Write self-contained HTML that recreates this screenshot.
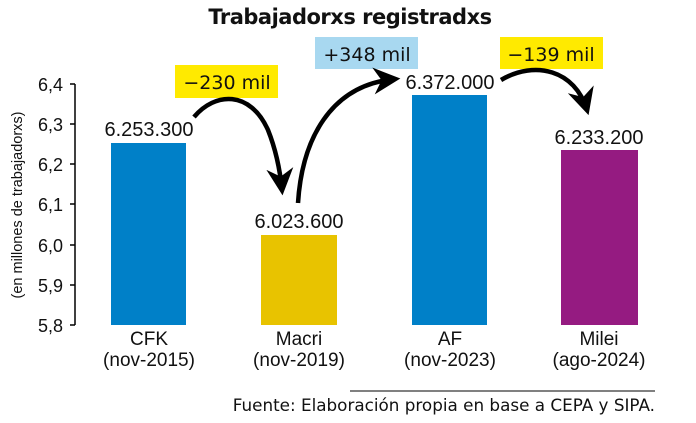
<!DOCTYPE html><html><head><style>body{margin:0;background:#fff;width:696px;height:418px;overflow:hidden}</style></head><body>
<svg width="696" height="418" xmlns="http://www.w3.org/2000/svg" font-family="Liberation Sans, sans-serif">
<defs><marker id="ah" viewBox="0 0 10 10" refX="8" refY="5" markerWidth="6" markerHeight="6" orient="auto"><path d="M0,0 L10,5 L0,10 L3,5z" fill="#000"/></marker></defs>
<text x="350" y="24" text-anchor="middle" font-size="21" font-weight="bold" fill="#111" font-family="DejaVu Sans, sans-serif" letter-spacing="-0.5">Trabajadorxs registradxs</text>
<line x1="75" y1="84" x2="75" y2="325" stroke="#000" stroke-width="1.5"/>
<g stroke="#000" stroke-width="1.5"><line x1="70" y1="84" x2="75" y2="84"/><line x1="70" y1="124" x2="75" y2="124"/><line x1="70" y1="164" x2="75" y2="164"/><line x1="70" y1="204" x2="75" y2="204"/><line x1="70" y1="245" x2="75" y2="245"/><line x1="70" y1="285" x2="75" y2="285"/><line x1="70" y1="325" x2="75" y2="325"/></g>
<g font-size="18" text-anchor="end" fill="#111"><text x="63" y="91">6,4</text><text x="63" y="131">6,3</text><text x="63" y="171">6,2</text><text x="63" y="211">6,1</text><text x="63" y="252">6,0</text><text x="63" y="292">5,9</text><text x="63" y="332">5,8</text></g>
<text transform="translate(22,205) rotate(-90)" text-anchor="middle" font-size="14.5" fill="#111">(en millones de trabajadorxs)</text>
<rect x="111" y="143" width="75" height="182" fill="#0080c8"/>
<rect x="261" y="235" width="76" height="90" fill="#e8c300"/>
<rect x="412" y="95" width="75" height="230" fill="#0080c8"/>
<rect x="561" y="150" width="77" height="175" fill="#951b81"/>
<g font-size="20" text-anchor="middle" fill="#111"><text x="149" y="136">6.253.300</text><text x="299" y="228">6.023.600</text><text x="450" y="89">6.372.000</text><text x="599" y="144">6.233.200</text></g>
<g font-size="19" text-anchor="middle" fill="#111"><text x="149" y="345">CFK</text><text x="149" y="366">(nov-2015)</text><text x="299" y="345">Macri</text><text x="299" y="366">(nov-2019)</text><text x="450" y="345">AF</text><text x="450" y="366">(nov-2023)</text><text x="599" y="345">Milei</text><text x="599" y="366">(ago-2024)</text></g>
<rect x="175" y="65" width="103" height="33" fill="#ffea00"/>
<rect x="315" y="37" width="103" height="32" fill="#a8d8f0"/>
<rect x="500" y="37" width="103" height="32" fill="#ffea00"/>
<g font-size="19" text-anchor="middle" fill="#111" font-family="DejaVu Sans, sans-serif"><text x="227" y="89">−230 mil</text><text x="367" y="61">+348 mil</text><text x="551" y="61">−139 mil</text></g>
<g fill="none" stroke="#000" stroke-width="4.5">
<path d="M194,117 C215,92 250,90 268,130 C276,150 280,170 282,190" marker-end="url(#ah)"/>
<path d="M298,203 C302,140 330,85 395,79" marker-end="url(#ah)"/>
<path d="M501,80 C535,60 575,70 587,110" marker-end="url(#ah)"/>
</g>
<line x1="350" y1="391" x2="655" y2="391" stroke="#000" stroke-width="1"/>
<text x="655" y="411" text-anchor="end" font-size="16.8" fill="#111" font-family="DejaVu Sans, sans-serif">Fuente: Elaboración propia en base a CEPA y SIPA.</text>
</svg></body></html>
